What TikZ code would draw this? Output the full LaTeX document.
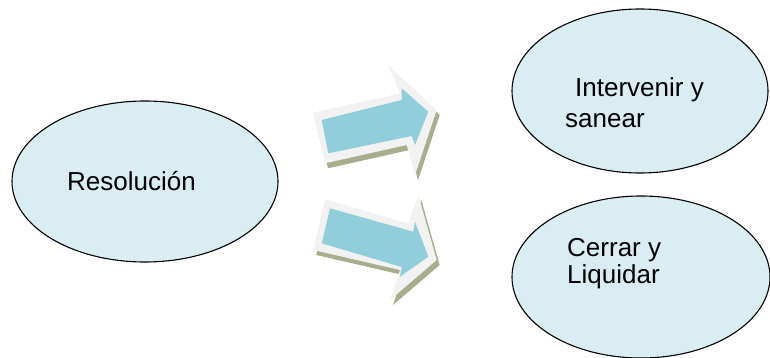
\documentclass[tikz,border=0pt]{standalone}
\usepackage{fontspec}
\setmainfont{Liberation Sans}
\usetikzlibrary{shapes.geometric}
\definecolor{ellfill}{HTML}{DAEDF3}
\definecolor{arrblue}{HTML}{92CDDC}
\definecolor{arrband}{HTML}{F2F2F2}
\definecolor{arrshadow}{HTML}{A6AE8E}
\tikzset{
  oval/.style={ellipse, draw=black, line width=1.1pt, fill=ellfill, inner sep=0pt},
  lbl/.style={anchor=base west, inner sep=0pt, font=\fontsize{26}{30}\selectfont},
  shadowpoly/.style={fill=arrshadow},
  bandpoly/.style={fill=arrband},
  bluepoly/.style={fill=arrblue},
}
\begin{document}
\begin{tikzpicture}[x=1pt,y=-1pt]
\useasboundingbox (0,0) rectangle (770,358);
% ellipses
\node[oval, minimum width=266pt, minimum height=161pt] (res) at (145,181.5) {};
\node[oval, minimum width=256pt, minimum height=164pt] (int) at (640,91) {};
\node[oval, minimum width=258pt, minimum height=162pt] (cer) at (641,277) {};
% labels
\node[lbl] (tres) at (67,190) {Resolución};
\node[lbl] (tint1) at (575,96.7) {Intervenir y};
\node[lbl] (tint2) at (565,127.7) {sanear};
\node[lbl] (tcer1) at (567,256) {Cerrar y};
\node[lbl] (tcer2) at (567,283.3) {Liquidar};
% top arrow
\begin{scope}[shift={(3,5)}]
\fill[shadowpoly] (312.7,112.7) -- (400,93.3) -- (388,65) -- (436.7,110) -- (415,175) -- (406.7,145) -- (325,163.3) -- cycle;
\end{scope}
\fill[bandpoly] (312.7,112.7) -- (400,93.3) -- (388,65) -- (436.7,110) -- (415,175) -- (406.7,145) -- (325,163.3) -- cycle;
\fill[bluepoly] (321.7,120) -- (401.7,100) -- (401.7,88.3) -- (428.3,111.7) -- (415,145) -- (411.7,136) -- (328.3,153.3) -- cycle;
% bottom arrow
\begin{scope}[shift={(3,5)}]
\fill[shadowpoly] (325,199.3) -- (408.3,223.3) -- (418.3,195) -- (436.7,260) -- (390,300) -- (400,270) -- (313.3,250) -- cycle;
\end{scope}
\fill[bandpoly] (325,199.3) -- (408.3,223.3) -- (418.3,195) -- (436.7,260) -- (390,300) -- (400,270) -- (313.3,250) -- cycle;
\fill[bluepoly] (330,208.3) -- (413.3,231.7) -- (415,221.7) -- (428.3,256.7) -- (400,276.7) -- (401.7,267) -- (321.7,243.3) -- cycle;
\end{tikzpicture}
\end{document}
